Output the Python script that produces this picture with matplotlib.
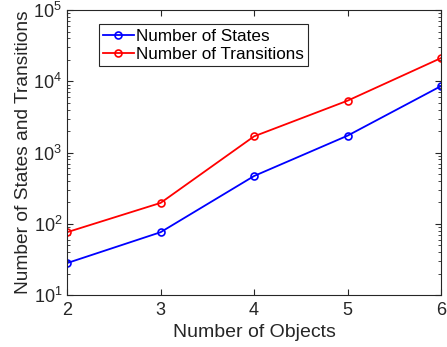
import matplotlib.pyplot as plt

objects = [2, 3, 4, 5, 6]
states = [28, 76, 468, 1726, 8590]
transitions = [76, 196, 1688, 5350, 21240]
xticks = [2, 3, 4, 5, 6]

plt.rcParams['font.family'] = ['Liberation Sans', 'DejaVu Sans']
plt.rcParams['mathtext.fontset'] = 'custom'
plt.rcParams['mathtext.rm'] = 'Liberation Sans'

fig = plt.figure(figsize=(4.47, 3.47), dpi=100)
ax = fig.add_axes([0.150, 0.150, 0.837, 0.821])

ax.plot(objects, states, color='blue', marker='o', markersize=5, markerfacecolor='none',
        markeredgewidth=1.2, linewidth=1.3, label='Number of States')
ax.plot(objects, transitions, color='red', marker='o', markersize=5, markerfacecolor='none',
        markeredgewidth=1.2, linewidth=1.3, label='Number of Transitions')

ax.set_yscale('log')
ax.set_xlim(2, 6)
ax.set_ylim(10, 1e5)
ax.set_xticks(xticks)
ax.tick_params(which='both', direction='in', top=True, right=True, colors='#262626',
               labelsize=13, labelcolor='#262626')
ax.tick_params(axis='x', which='major', pad=5)
ax.tick_params(which='major', length=4)
ax.tick_params(which='minor', length=2)
for s in ax.spines.values():
    s.set_color('#262626')
    s.set_linewidth(0.8)

ax.set_xlabel('Number of Objects', fontsize=14, color='#262626', labelpad=4)
ax.set_ylabel('Number of States and Transitions', fontsize=13.8, color='#262626', labelpad=1)

leg = ax.legend(loc='upper left', bbox_to_anchor=(0.085, 0.95), fontsize=12.3, fancybox=False,
                edgecolor='#262626', framealpha=1, handlelength=1.8, handletextpad=0.1,
                borderpad=0.25, labelspacing=0.2, borderaxespad=0)
leg.get_frame().set_linewidth(0.8)

fig.savefig('out.png', dpi=100)
